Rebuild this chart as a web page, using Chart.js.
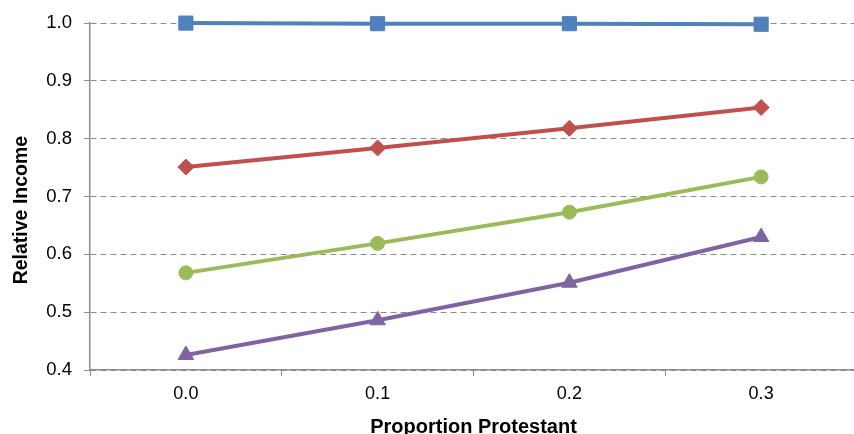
<!DOCTYPE html>
<html>
<head>
<meta charset="utf-8">
<script src="https://cdn.jsdelivr.net/npm/chart.js@4.4.1/dist/chart.umd.min.js"></script>
<style>
  html, body { margin: 0; padding: 0; background: #fff; overflow: hidden; }
  #wrap { width: 854px; height: 434px; overflow: hidden; }
  #box { width: 868px; height: 434px; }
</style>
</head>
<body>
<div id="wrap"><div id="box"><canvas id="incomeChart"></canvas></div></div>
<script>
// Données
const categories = ["0.0", "0.1", "0.2", "0.3"];
const seriesBlue = [1.0, 0.999, 0.999, 0.998];
const seriesRed = [0.751, 0.784, 0.818, 0.854];
const seriesGreen = [0.568, 0.619, 0.673, 0.734];
const seriesPurple = [0.426, 0.486, 0.551, 0.630];
const yTicks = [0.4, 0.5, 0.6, 0.7, 0.8, 0.9, 1.0];

const font = "'Liberation Sans', Arial, sans-serif";

function makeSeries(data, color, style, radius) {
  return {
    data: data,
    borderColor: color,
    backgroundColor: color,
    borderWidth: 4,
    pointStyle: style,
    pointRadius: radius,
    pointHoverRadius: radius,
    pointBorderWidth: 1,
    tension: 0,
    clip: false,
  };
}

const ctx = document.getElementById("incomeChart").getContext("2d");
new Chart(ctx, {
  type: "line",
  data: {
    labels: categories,
    datasets: [
      makeSeries(seriesBlue, "#4F81BD", "rect", 10),
      makeSeries(seriesRed, "#C0504D", "rectRot", 8),
      makeSeries(seriesGreen, "#9BBB59", "circle", 7),
      makeSeries(seriesPurple, "#8064A2", "triangle", 9),
    ],
  },
  options: {
    responsive: true,
    maintainAspectRatio: false,
    animation: false,
    layout: { padding: { top: 13, right: 0, left: 0, bottom: 0 } },
    plugins: {
      legend: { display: false },
      tooltip: { enabled: false },
    },
    scales: {
      x: {
        offset: true,
        grid: {
          offset: true,
          drawOnChartArea: false,
          drawTicks: true,
          tickLength: 6,
          color: "#8c8c8c",
        },
        border: { color: "#8c8c8c", width: 1.5 },
        ticks: {
          color: "#000",
          font: { family: font, size: 18 },
          padding: 7,
        },
        title: {
          display: true,
          text: "Proportion Protestant",
          color: "#000",
          font: { family: font, size: 20, weight: "bold" },
          padding: { top: 0, bottom: -5 },
        },
        afterFit: (scale) => { scale.height = 64; },
      },
      y: {
        min: 0.4,
        max: 1.0,
        afterBuildTicks: (scale) => {
          scale.ticks = yTicks.map((v) => ({ value: v }));
        },
        grid: {
          color: "#8c8c8c",
          tickBorderDash: [],
          tickLength: 6,
          lineWidth: 1,
        },
        border: { color: "#8c8c8c", width: 1.5, dash: [6, 4] },
        ticks: {
          color: "#000",
          font: { family: font, size: 18.5 },
          padding: 12,
          callback: (v) => Number(v).toFixed(1),
        },
        title: {
          display: true,
          // espaces insécables en fin pour descendre un peu le titre
          text: "Relative Income\u00a0\u00a0\u00a0\u00a0\u00a0",
          color: "#000",
          font: { family: font, size: 19.5, weight: "bold" },
          padding: { top: 10, bottom: 0 },
        },
        afterFit: (scale) => { scale.width = 90; },
      },
    },
  },
});
</script>
</body>
</html>
